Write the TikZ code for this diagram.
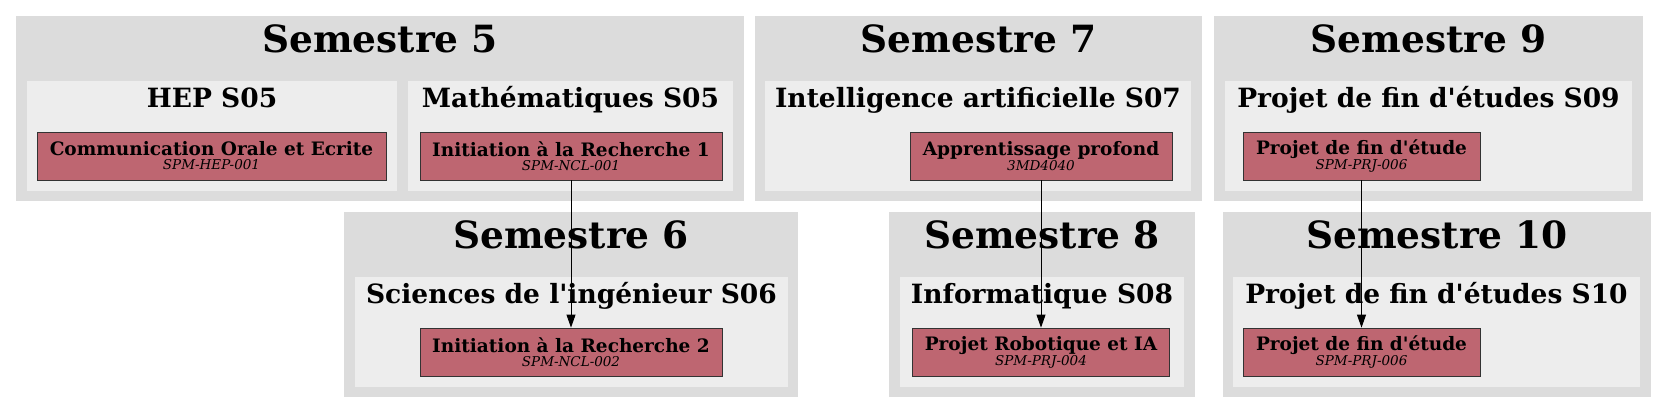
\documentclass[tikz,border=0pt]{standalone}
\usepackage{fontspec}
\setmainfont{DejaVu Serif}
\usetikzlibrary{arrows.meta}

\definecolor{fondsem}{HTML}{DCDCDC}
\definecolor{fondue}{HTML}{EDEDED}
\definecolor{rosecours}{HTML}{BE6671}

\newcommand{\nomcours}[1]{{\bfseries\fontsize{18.5}{14}\selectfont #1}}
\newcommand{\codecours}[1]{{\itshape #1}}
\newcommand{\apos}{\textquotesingle}

\begin{document}
\begin{tikzpicture}[x=1pt, y=-1pt,
    semestre/.style={fill=fondsem},
    ue/.style={fill=fondue},
    titresem/.style={anchor=base, font=\bfseries\fontsize{37.5}{40}\selectfont},
    titreue/.style={anchor=base, font=\bfseries\fontsize{26.5}{30}\selectfont},
    cours/.style={draw=black!80, fill=rosecours, line width=0.8pt, minimum height=48pt,
        inner sep=0pt, align=center, font=\fontsize{13.5}{14}\selectfont},
    prereq/.style={-{Triangle[length=13pt,width=9pt]}, line width=0.9pt}]
    \useasboundingbox (0,0) rectangle (1667,413);

    % Draw the semester frames
    \fill[semestre] (16,16) rectangle (744,201);
    \fill[semestre] (755,16) rectangle (1202,201);
    \fill[semestre] (1214,16) rectangle (1643,201);
    \fill[semestre] (344,212) rectangle (798,397);
    \fill[semestre] (889,212) rectangle (1195,397);
    \fill[semestre] (1223,212) rectangle (1651,397);

    % Draw the teaching units inside them
    \fill[ue] (27,81) rectangle (397,191);
    \fill[ue] (408,81) rectangle (733,191);
    \fill[ue] (765,81) rectangle (1191,191);
    \fill[ue] (1225,81) rectangle (1632,191);
    \fill[ue] (355,277) rectangle (788,387);
    \fill[ue] (900,277) rectangle (1184,387);
    \fill[ue] (1233,277) rectangle (1640,387);

    % Label the semesters
    \node[titresem] (s5) at (380,52) {Semestre 5};
    \node[titresem] (s7) at (978.5,52) {Semestre 7};
    \node[titresem] (s9) at (1428.5,52) {Semestre 9};
    \node[titresem] (s6) at (571,248) {Semestre 6};
    \node[titresem] (s8) at (1042,248) {Semestre 8};
    \node[titresem] (s10) at (1437,248) {Semestre 10};

    % Label the teaching units
    \node[titreue] (hep) at (212,107) {HEP S05};
    \node[titreue] (maths) at (570.5,107) {Mathématiques S05};
    \node[titreue] (ia) at (978,107) {Intelligence artificielle S07};
    \node[titreue] (pfe9) at (1428.5,107) {Projet de fin d\apos études S09};
    \node[titreue] (si) at (571.5,303) {Sciences de l\apos ingénieur S06};
    \node[titreue] (info) at (1042,303) {Informatique S08};
    \node[titreue] (pfe10) at (1436.5,303) {Projet de fin d\apos études S10};

    % Add the courses
    \node[cours, minimum width=349pt] (coe) at (211.5,156)
        {\nomcours{Communication Orale et Ecrite}\\\codecours{SPM-HEP-001}};
    \node[cours, minimum width=302pt] (ir1) at (571,156)
        {\nomcours{Initiation à la Recherche 1}\\\codecours{SPM-NCL-001}};
    \node[cours, minimum width=262pt] (ap) at (1041,156)
        {\nomcours{Apprentissage profond}\\\codecours{3MD4040}};
    \node[cours, minimum width=237pt] (pf9) at (1361.5,156)
        {\nomcours{Projet de fin d\apos étude}\\\codecours{SPM-PRJ-006}};
    \node[cours, minimum width=302pt] (ir2) at (571,352)
        {\nomcours{Initiation à la Recherche 2}\\\codecours{SPM-NCL-002}};
    \node[cours, minimum width=257pt] (pria) at (1041,352)
        {\nomcours{Projet Robotique et IA}\\\codecours{SPM-PRJ-004}};
    \node[cours, minimum width=237pt] (pf10) at (1361.5,352)
        {\nomcours{Projet de fin d\apos étude}\\\codecours{SPM-PRJ-006}};

    % Add the prerequisite arrows
    \draw[prereq] (ir1) -- (ir2);
    \draw[prereq] (ap) -- (pria);
    \draw[prereq] (pf9) -- (pf10);
\end{tikzpicture}
\end{document}
